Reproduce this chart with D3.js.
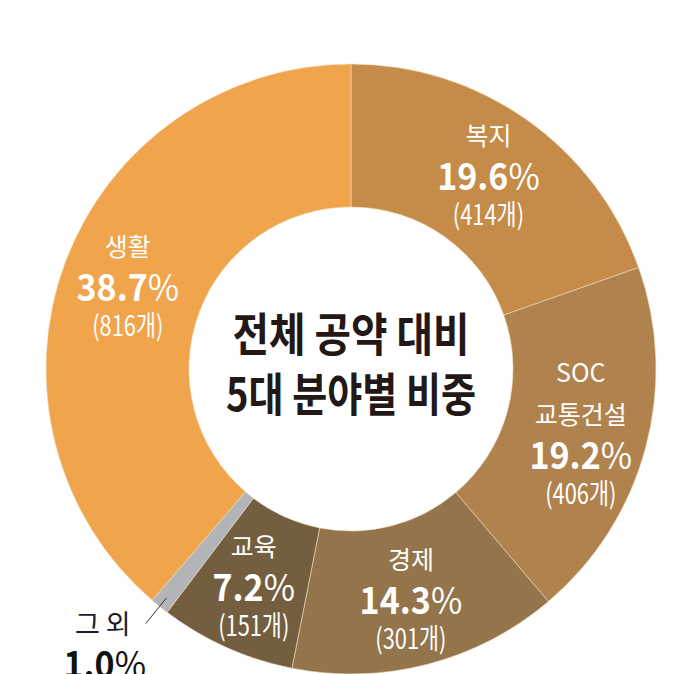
<!DOCTYPE html>
<html>
<head>
<meta charset="utf-8">
<script src="https://cdn.jsdelivr.net/npm/d3@7"></script>
<style>
  html, body { margin: 0; padding: 0; background: #fff; }
  svg { display: block; font-family: "Noto Sans CJK KR", "Noto Sans", sans-serif; }
</style>
</head>
<body>
<script>
// chart data (clockwise from 12 o'clock)
var categories = ["복지", "SOC\n교통건설", "경제", "교육", "그 외", "생활"];
var shares = [19.6, 19.2, 14.3, 7.2, 1.0, 38.7];
var counts = [414, 406, 301, 151, null, 816];
var centerTitle = ["전체 공약 대비", "5대 분야별 비중"];

var sliceColors = ["#c48c48", "#b0834e", "#93744b", "#735f40", "#b3b4b7", "#f0a44c"];

var svgWidth = 696;
var svgHeight = 674;
var cx = 351, cy = 369;
var outerR = 305, innerR = 162, labelR = 238;

var rows = categories.map(function(c, i) {
  return { name: c, share: shares[i], count: counts[i], color: sliceColors[i] };
});

var svg = d3.select("body").append("svg")
  .attr("width", svgWidth)
  .attr("height", svgHeight);

var g = svg.append("g")
  .attr("transform", `translate(${cx}, ${cy})`);

var pie = d3.pie()
  .sort(null)
  .value(d => d.share);

var arcs = pie(rows);

var arc = d3.arc().innerRadius(innerR).outerRadius(outerR);
var labelArc = d3.arc().innerRadius(labelR).outerRadius(labelR);

// slices
g.selectAll("path.slice")
  .data(arcs)
  .enter()
  .append("path")
  .attr("class", "slice")
  .attr("d", arc)
  .attr("fill", d => d.data.color)
  .attr("stroke", "#f2dcbf")
  .attr("stroke-width", 0.6);

// labels inside the ring
var inside = arcs.filter(d => d.data.count !== null);

inside.forEach(function(d) {
  var c = labelArc.centroid(d);
  var names = d.data.name.split("\n");
  // vertical centers of each line relative to block
  var lines = [];
  var y = 0;
  names.forEach(function(n, i) {
    lines.push({ type: "name", text: n, y: y });
    y += (i < names.length - 1) ? 42 : 41;
  });
  lines.push({ type: "pct", text: d.data.share.toFixed(1), y: y });
  y += 38;
  lines.push({ type: "count", text: "(" + d.data.count + "개)", y: y });
  var mid = (lines[0].y + lines[lines.length - 1].y) / 2;
  if (names.length === 1) mid = lines[1].y;

  var lg = g.append("g")
    .attr("transform", `translate(${c[0]}, ${c[1] - mid + 2})`);

  lines.forEach(function(l) {
    if (l.type === "name") {
      lg.append("text")
        .attr("x", 0)
        .attr("y", l.y + 9)
        .attr("text-anchor", "middle")
        .attr("fill", "#fff")
        .attr("font-size", 25)
        .text(l.text);
    } else if (l.type === "pct") {
      var t = lg.append("text")
        .attr("transform", `translate(0, ${l.y + 13}) scale(0.92, 1)`)
        .attr("text-anchor", "middle")
        .attr("fill", "#fff")
        .attr("font-size", 37)
        .attr("font-weight", 700);
      t.append("tspan").text(l.text);
      t.append("tspan").attr("font-weight", 400).text("%");
    } else {
      lg.append("text")
        .attr("transform", `translate(0, ${l.y + 10}) scale(0.78, 1)`)
        .attr("text-anchor", "middle")
        .attr("fill", "#fff")
        .attr("font-size", 28)
        .attr("font-weight", 400)
        .text(l.text);
    }
  });
});

// small slice: label outside with leader line
var other = arcs.filter(d => d.data.count === null)[0];
var midA = (other.startAngle + other.endAngle) / 2;
var p1 = [Math.sin(midA) * 294, -Math.cos(midA) * 294];
var p2 = [Math.sin(midA) * 327, -Math.cos(midA) * 327];

g.append("line")
  .attr("x1", p1[0]).attr("y1", p1[1])
  .attr("x2", p2[0]).attr("y2", p2[1])
  .attr("stroke", "#333")
  .attr("stroke-width", 1);

g.append("text")
  .attr("x", p2[0] - 43)
  .attr("y", p2[1] + 10)
  .attr("text-anchor", "middle")
  .attr("fill", "#1a1a2a")
  .attr("font-size", 27)
  .text(other.data.name);

var ot = g.append("text")
  .attr("transform", `translate(${p2[0] - 41}, ${p2[1] + 54}) scale(0.92, 1)`)
  .attr("text-anchor", "middle")
  .attr("fill", "#111")
  .attr("font-size", 37)
  .attr("font-weight", 700);
ot.append("tspan").text(other.data.share.toFixed(1));
ot.append("tspan").attr("font-weight", 400).text("%");

// center title
var lineWidths = [237, 250];
centerTitle.forEach(function(s, i) {
  g.append("text")
    .attr("x", 0)
    .attr("y", -18 + i * 60)
    .attr("text-anchor", "middle")
    .attr("fill", "#231815")
    .attr("font-size", 46)
    .attr("font-weight", 700)
    .attr("textLength", lineWidths[i])
    .attr("lengthAdjust", "spacingAndGlyphs")
    .text(s);
});
</script>
</body>
</html>
